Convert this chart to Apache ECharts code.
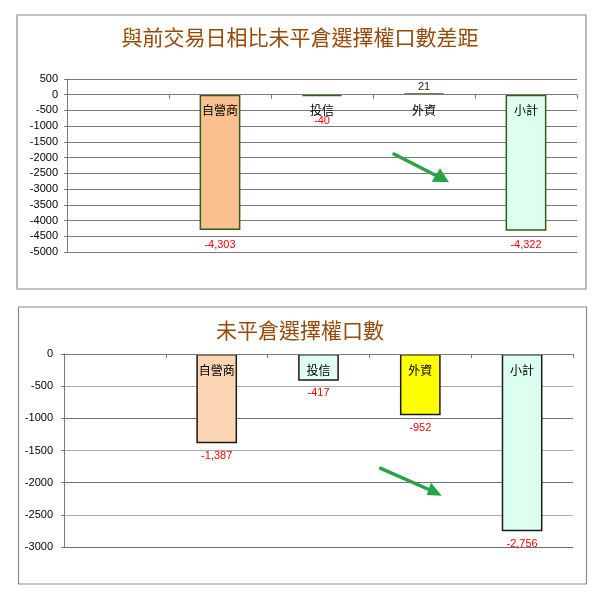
<!DOCTYPE html>
<html lang="zh-Hant">
<head>
    <meta charset="UTF-8">
    <title>未平倉選擇權口數</title>
    <style>
        html, body { margin: 0; padding: 0; background: #fff; }
    </style>
</head>
<body>
    <div id="app" style="width: 600px;height:595px;"></div>
    <script src="https://cdn.jsdelivr.net/npm/echarts@6/dist/echarts.min.js"></script>
    <script>
        // 資料
        const categories = ['', '自營商', '投信', '外資', '小計'];
        const diffValues = [null, -4303, -40, 21, -4322];   // 與前交易日相比差距
        const oiValues = [null, -1387, -417, -952, -2756];  // 未平倉口數
        const diffAxis = { min: -5000, max: 500, step: 500 };
        const oiAxis = { min: -3000, max: 0, step: 500 };

        // 樣式
        const diffFills = ['#fff', '#fac090', '#dffff2', '#dffff2', '#dcfff0'];
        const oiFills = ['#fff', '#fcd5b4', '#dffff4', '#ffff00', '#dcfff0'];
        const cjk = '"Noto Sans CJK TC", sans-serif';
        const num = '"Liberation Sans", Arial, sans-serif';
        const titleColor = '#984807';
        const gridColor = '#7a7a7a';

        const myChart = echarts.init(document.getElementById('app'));

        function fmt(p) {
            return echarts.format.addCommas(p.value);
        }

        function buildBars(values, fills, border, distFn) {
            return values.map(function (v, i) {
                if (v === null) return null;
                return {
                    value: v,
                    itemStyle: { color: fills[i], borderColor: border, borderWidth: 1.5 },
                    label: {
                        position: v < 0 ? 'bottom' : 'top',
                        distance: distFn(v),
                        color: v < 0 ? '#ff0000' : '#222'
                    }
                };
            });
        }

        function valueAxis(grid, range, margin, splitColor) {
            return {
                type: 'value',
                gridIndex: grid,
                min: range.min,
                max: range.max,
                interval: range.step,
                axisLine: { show: true, lineStyle: { color: gridColor } },
                axisTick: { show: true, length: 3, lineStyle: { color: gridColor } },
                axisLabel: {
                    margin: margin, fontSize: 11, color: '#000', fontFamily: num,
                    formatter: function (v) { return String(v); }
                },
                splitLine: { show: true, lineStyle: { color: splitColor, width: 1.2 } }
            };
        }

        // 類別軸放在 0 的位置，標籤在線下方（畫在長條之上）
        function catAxis(grid, range, plotHeight) {
            const zeroOffset = plotHeight * range.max / (range.max - range.min);
            return {
                type: 'category',
                gridIndex: grid,
                data: categories,
                position: 'top',
                offset: -zeroOffset,
                z: 10,
                axisLine: { onZero: false, lineStyle: { color: gridColor } },
                axisTick: { show: true, inside: true, length: 4, lineStyle: { color: gridColor } },
                axisLabel: { inside: true, margin: 10, fontSize: 12, color: '#000', fontFamily: cjk }
            };
        }

        function arrow(x1, y1, x2, y2, head) {
            return {
                type: 'group',
                children: [
                    { type: 'line', shape: { x1: x1, y1: y1, x2: x2, y2: y2 },
                      style: { stroke: '#22a744', lineWidth: 3.5, lineCap: 'round' } },
                    { type: 'polygon', shape: { points: head }, style: { fill: '#22a744' } }
                ]
            };
        }

        const options = {
            animation: false,
            title: [
                { text: '與前交易日相比未平倉選擇權口數差距', left: 'center', top: 22,
                  textStyle: { color: titleColor, fontSize: 21, fontWeight: 'normal', fontFamily: cjk,
                               textShadowColor: 'rgba(0,0,0,0.25)', textShadowOffsetX: 1, textShadowOffsetY: 1 } },
                { text: '未平倉選擇權口數', left: 'center', top: 315,
                  textStyle: { color: titleColor, fontSize: 21, fontWeight: 'normal', fontFamily: cjk,
                               textShadowColor: 'rgba(0,0,0,0.25)', textShadowOffsetX: 1, textShadowOffsetY: 1 } }
            ],
            grid: [
                { left: 67, top: 79, width: 510, height: 173 },
                { left: 64, top: 354, width: 509, height: 193 }
            ],
            xAxis: [catAxis(0, diffAxis, 173), catAxis(1, oiAxis, 193)],
            yAxis: [
                valueAxis(0, diffAxis, 9, gridColor),
                valueAxis(1, oiAxis, 11, ['#6f6f6f', '#ababab'])
            ],
            series: [
                {
                    type: 'bar', xAxisIndex: 0, yAxisIndex: 0, barWidth: '40%', barMinHeight: 1.5,
                    label: { show: true, fontSize: 11, fontFamily: num, formatter: fmt },
                    data: buildBars(diffValues, diffFills, '#2f5f14', function (v) {
                        if (v > 0) return 1;
                        return v > -500 ? 19 : 9;
                    })
                },
                {
                    type: 'bar', xAxisIndex: 1, yAxisIndex: 1, barWidth: '40%',
                    label: { show: true, fontSize: 11, fontFamily: num, formatter: fmt },
                    data: buildBars(oiValues, oiFills, '#1a1a1a', function () { return 7; })
                }
            ],
            graphic: [
                { type: 'rect', shape: { x: 17, y: 15, width: 569, height: 274 },
                  style: { fill: 'none', stroke: '#8c8c8c', lineWidth: 1.2 }, silent: true },
                { type: 'rect', shape: { x: 18.5, y: 307, width: 568, height: 277 },
                  style: { fill: 'none', stroke: '#8c8c8c', lineWidth: 1.2 }, silent: true },
                arrow(394, 154, 437, 176, [[449, 182.3], [431.7, 181.7], [440, 168.3]]),
                arrow(380.7, 468.3, 430, 490, [[441.7, 495.7], [426.7, 495], [431, 482.7]])
            ]
        };
        myChart.setOption(options);
    </script>
</body>
</html>
